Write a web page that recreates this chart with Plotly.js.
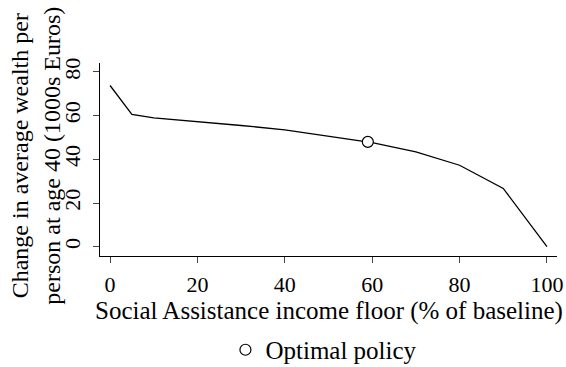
<!DOCTYPE html>
<html>
<head>
<meta charset="utf-8">
<script src="https://cdn.plot.ly/plotly-3.0.1.min.js"></script>
<style>
  html, body { margin: 0; padding: 0; background: #fff; }
  #chart { width: 566px; height: 367px; }
</style>
</head>
<body>
<div id="chart"></div>
<script>
// Social Assistance income floor (% of baseline)
const floorPct = [0, 5, 10, 20, 30, 40, 50, 60, 70, 80, 90, 100];
// Change in average wealth per person at age 40 (1000s Euros)
const wealthChange = [73.8, 60.6, 59.0, 57.3, 55.5, 53.5, 50.7, 47.6, 43.4, 37.3, 26.7, 0];
// Optimal policy point
const optimalX = [59];
const optimalY = [48];

const xTicks = [0, 20, 40, 60, 80, 100];
const yTicks = [0, 20, 40, 60, 80];

const serif = "'Liberation Serif', 'Times New Roman', Times, serif";
const fs = 25;
const tickFs = 22;

const traces = [
  {
    x: floorPct, y: wealthChange,
    type: 'scatter', mode: 'lines',
    line: { color: '#000', width: 1.3 },
    showlegend: false, hoverinfo: 'skip'
  },
  {
    x: optimalX, y: optimalY,
    type: 'scatter', mode: 'markers',
    name: 'Optimal policy',
    marker: { symbol: 'circle', size: 11, color: '#fff', line: { color: '#000', width: 1.2 } },
    showlegend: true
  }
];

const layout = {
  width: 566, height: 367,
  margin: { l: 100, r: 9, t: 63, b: 111, autoexpand: false },
  paper_bgcolor: '#fff', plot_bgcolor: '#fff',
  font: { family: serif, size: fs, color: '#000' },
  xaxis: {
    range: [-2.3, 102.3],
    tickvals: xTicks, ticktext: xTicks.map(String),
    showgrid: false, zeroline: false,
    showline: true, linecolor: '#000', linewidth: 1,
    ticks: 'outside', ticklen: 6, tickcolor: '#444', tickwidth: 1,
    ticklabelstandoff: 3,
    tickfont: { family: serif, size: tickFs }
  },
  yaxis: {
    range: [-4.25, 84.1],
    tickvals: yTicks, ticktext: yTicks.map(String),
    tickangle: -90,
    showgrid: false, zeroline: false,
    showline: true, linecolor: '#000', linewidth: 1,
    ticks: 'outside', ticklen: 6, tickcolor: '#444', tickwidth: 1,
    ticklabelstandoff: 4,
    tickfont: { family: serif, size: tickFs }
  },
  showlegend: true,
  legend: {
    orientation: 'h', x: 0.49, xanchor: 'center', y: -0.487, yanchor: 'middle',
    font: { family: serif, size: fs },
    itemsizing: 'trace'
  },
  annotations: [
    {
      text: 'Social Assistance income floor (% of baseline)',
      xref: 'paper', yref: 'paper', x: 0.5, y: -0.285,
      xanchor: 'center', yanchor: 'middle', showarrow: false,
      font: { family: serif, size: fs }
    },
    {
      text: 'Change in average wealth per<br>person at age 40 (1000s Euros)',
      xref: 'paper', yref: 'paper', x: -0.14, y: 0.52,
      xanchor: 'center', yanchor: 'middle', showarrow: false,
      textangle: -90,
      font: { family: serif, size: 24 }
    }
  ]
};

Plotly.newPlot('chart', traces, layout, { displayModeBar: false, staticPlot: true });
</script>
</body>
</html>
